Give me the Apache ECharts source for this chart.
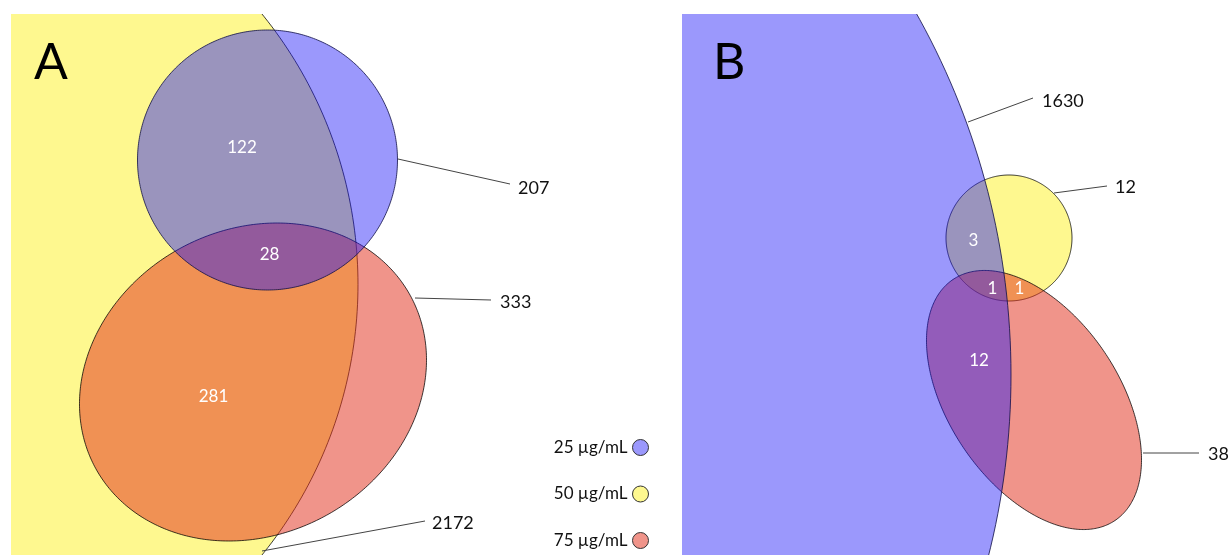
<!DOCTYPE html>
<html>
<head>
<meta charset="utf-8">
<script src="https://cdn.jsdelivr.net/npm/echarts@6/dist/echarts.min.js"></script>
<style>html,body{margin:0;padding:0;background:#fff}#c{width:1230px;height:555px}</style>
</head>
<body>
<div id="c"></div>
<script>
// ---- data ----
const setNames = ['25 µg/mL', '50 µg/mL', '75 µg/mL'];

// Panel A: region counts
const regionsA = ['25 only', '50 only', '75 only', '25∩50', '25∩50∩75', '50∩75'];
const countsA  = [207, 2172, 333, 122, 28, 281];

// Panel B: region counts
const regionsB = ['25 only', '50 only', '75 only', '25∩50', '25∩50∩75', '50∩75', '25∩75'];
const countsB  = [1630, 12, 38, 3, 1, 1, 12];

// Euler-diagram geometry in axis units: [cx, cy, semiAxis1, semiAxis2, rotationDeg]
const shapesA = [
  [267.5, 160, 130, 130, 0],        // 25
  [-71, 284.5, 429, 429, 0],        // 50
  [253, 382, 179.5, 152.2, -28.9]   // 75
];
const shapesB = [
  [273, 375, 738, 738, 0],          // 25
  [1009, 238, 63, 63, 0],           // 50
  [1034, 400, 145.2, 85.2, 56.1]    // 75
];

// Label anchors (axis units), same order as counts
const labelAnchorsA = [
  {line: [[398, 159], [510, 184]], at: [518, 188]},
  {line: [[262, 551], [425, 521]], at: [432, 523]},
  {line: [[415, 298], [491, 300]], at: [500, 302]},
  {at: [242, 148]},
  {at: [269.5, 255]},
  {at: [213.5, 396.5]}
];
const labelAnchorsB = [
  {line: [[968, 122], [1033, 98]], at: [1042, 101]},
  {line: [[1054, 193], [1107, 186]], at: [1115, 187]},
  {line: [[1143, 453], [1199, 453]], at: [1208, 454]},
  {at: [973.5, 240.5]},
  {at: [992.5, 288.5]},
  {at: [1019.5, 288.5]},
  {at: [979, 361]}
];

// ---- styles ----
const fills = ['rgba(28,21,248,0.44)', 'rgb(254,248,143)', 'rgba(226,49,30,0.52)'];
const strokes = ['rgba(15,15,70,0.8)', 'rgba(0,0,0,0.75)', 'rgba(0,0,0,0.75)'];
const legendColors = ['#9b98fc', '#fef88f', '#f0948a'];
const drawOrder = [1, 2, 0]; // 50, 75, 25 on top

function ellipseRenderer(setIdx) {
  return function (params, api) {
    const cx = api.value(0), cy = api.value(1), a = api.value(2), b = api.value(3);
    const rot = api.value(4) * Math.PI / 180;
    const cr = Math.cos(rot), sr = Math.sin(rot);
    const pts = [];
    const N = 400;
    for (let k = 0; k < N; k++) {
      const t = 2 * Math.PI * k / N;
      const ct = Math.cos(t), st = Math.sin(t);
      pts.push(api.coord([cx + a * ct * cr - b * st * sr, cy + a * ct * sr + b * st * cr]));
    }
    return {
      type: 'polygon',
      shape: {points: pts},
      style: {fill: fills[setIdx], stroke: strokes[setIdx], lineWidth: 1}
    };
  };
}

function labelRenderer(anchors) {
  return function (params, api) {
    const L = anchors[params.dataIndex];
    const children = [];
    if (L.line) {
      const p1 = api.coord(L.line[0]), p2 = api.coord(L.line[1]);
      children.push({type: 'line', shape: {x1: p1[0], y1: p1[1], x2: p2[0], y2: p2[1]},
        style: {stroke: '#444', lineWidth: 1}});
    }
    const p = api.coord(L.at);
    children.push({type: 'text', x: p[0], y: p[1], style: {
      text: String(api.value(0)), fill: L.line ? '#111' : '#fff',
      font: (L.line ? '18px' : '17px') + ' Lato', align: L.line ? 'left' : 'center', verticalAlign: 'middle'}});
    return {type: 'group', children: children};
  };
}

const series = [];
[shapesA, shapesB].forEach(function (shapes, p) {
  drawOrder.forEach(function (i) {
    series.push({
      type: 'custom', name: setNames[i], xAxisIndex: p, yAxisIndex: p,
      clip: true, silent: true, animation: false,
      itemStyle: {color: legendColors[i]},
      renderItem: ellipseRenderer(i),
      data: [shapes[i]]
    });
  });
});
series.push({type: 'custom', name: 'labelsA', xAxisIndex: 0, yAxisIndex: 0, silent: true, animation: false,
  renderItem: labelRenderer(labelAnchorsA), data: countsA.map(function (v) { return [v]; })});
series.push({type: 'custom', name: 'labelsB', xAxisIndex: 1, yAxisIndex: 1, silent: true, animation: false,
  renderItem: labelRenderer(labelAnchorsB), data: countsB.map(function (v) { return [v]; })});

const chart = echarts.init(document.getElementById('c'), null, {renderer: 'canvas'});
chart.setOption({
  backgroundColor: '#fff',
  animation: false,
  title: [
    {text: 'A', left: 34, top: 38, padding: 0, textStyle: {fontFamily: 'Lato', fontSize: 50, fontWeight: 'normal', color: '#000'}},
    {text: 'B', left: 713, top: 38, padding: 0, textStyle: {fontFamily: 'Lato', fontSize: 50, fontWeight: 'normal', color: '#000'}}
  ],
  legend: {
    data: setNames.map(function (n, i) {
      return {name: n, itemStyle: {color: legendColors[i], borderColor: '#333', borderWidth: 1}};
    }),
    orient: 'vertical', right: 581, top: 439, align: 'right',
    icon: 'circle', itemWidth: 16, itemHeight: 16, itemGap: 29.5,
    selectedMode: false, padding: 0,
    textStyle: {fontFamily: 'Lato', fontSize: 17, color: '#111'}
  },
  grid: [
    {left: 11, top: 14, width: 670, height: 541},
    {left: 682, top: 14, width: 548, height: 541}
  ],
  xAxis: [
    {gridIndex: 0, type: 'value', min: 11, max: 681, show: false},
    {gridIndex: 1, type: 'value', min: 682, max: 1230, show: false}
  ],
  yAxis: [
    {gridIndex: 0, type: 'value', min: 14, max: 555, inverse: true, show: false},
    {gridIndex: 1, type: 'value', min: 14, max: 555, inverse: true, show: false}
  ],
  series: series
});
</script>
</body>
</html>
